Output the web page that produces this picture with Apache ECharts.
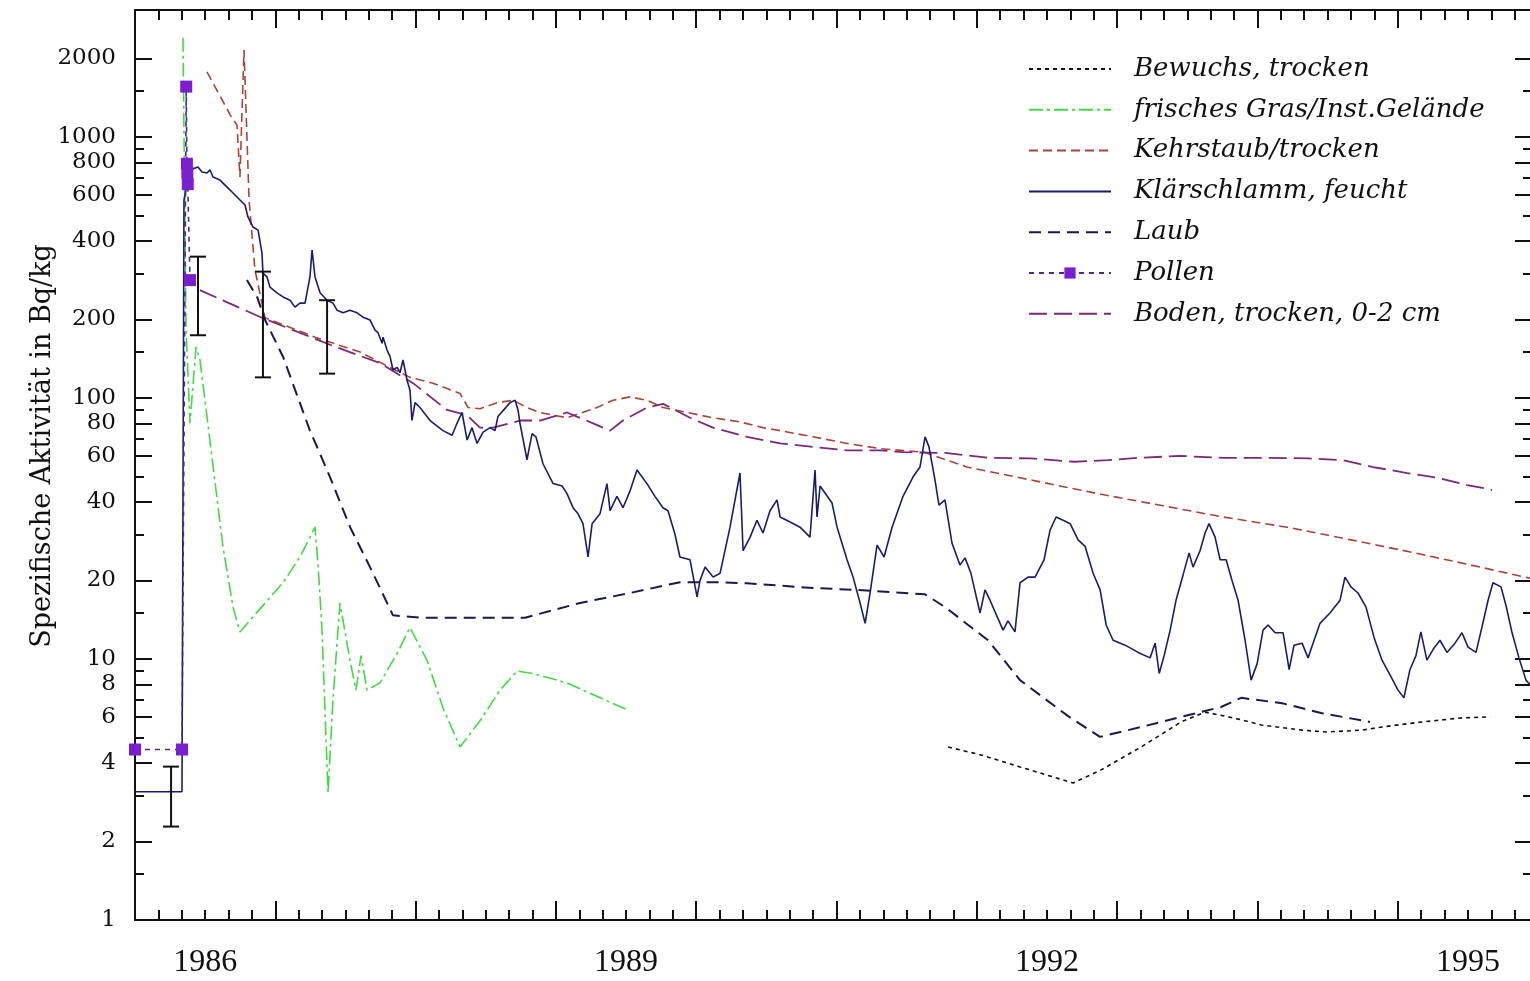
<!DOCTYPE html>
<html>
<head>
<meta charset="utf-8">
<script src="https://cdn.jsdelivr.net/npm/echarts@6/dist/echarts.min.js"></script>
<style>
html, body { margin: 0; padding: 0; background: #fff; }
#chart { width: 1530px; height: 981px; }
</style>
</head>
<body>
<div id="chart"></div>
<script>
// values: [decimal year, Bq/kg]
const bewuchs = [[1991.795,4.6],[1992.023,4.3],[1992.308,3.86],[1992.686,3.35],[1992.886,3.76],[1993.171,4.6],[1993.456,5.74],[1993.627,6.26],[1993.827,5.95],[1994.026,5.59],[1994.318,5.34],[1994.489,5.25],[1994.746,5.34],[1994.889,5.49],[1995.174,5.74],[1995.459,5.95],[1995.659,6.0]];

const gras = [[1986.342,2400],[1986.364,182],[1986.392,80],[1986.435,157],[1986.463,140],[1986.513,85],[1986.627,26.9],[1986.699,15.8],[1986.748,12.7],[1986.841,14.5],[1987.055,19.6],[1987.176,24.6],[1987.283,32],[1987.304,23.3],[1987.333,12.9],[1987.376,3.07],[1987.411,7.0],[1987.461,16.4],[1987.532,9.9],[1987.575,7.6],[1987.611,10.3],[1987.654,7.6],[1987.746,8.1],[1987.868,10.5],[1987.960,13.2],[1988.081,9.9],[1988.195,6.5],[1988.317,4.6],[1988.459,5.8],[1988.602,7.6],[1988.723,9.0],[1988.837,8.8],[1989.079,8.1],[1989.315,7.1],[1989.507,6.4]];

const kehrstaub = [[1986.513,1775],[1986.691,1183],[1986.727,1112],[1986.748,703],[1986.777,2154],[1986.813,574],[1986.855,310],[1986.927,203],[1987.297,170],[1987.604,150],[1987.818,131],[1987.960,120],[1988.124,114],[1988.317,104],[1988.374,92],[1988.459,91],[1988.580,96],[1988.694,98],[1988.794,92],[1988.887,88],[1989.079,84],[1989.293,92],[1989.407,98],[1989.528,101],[1989.650,98],[1989.764,92],[1989.935,88],[1990.120,84],[1990.312,81],[1990.476,77],[1990.598,75],[1990.833,71],[1991.075,67],[1991.310,64],[1991.624,62],[1991.930,54.4],[1992.387,48.5],[1992.843,43.2],[1993.299,38.9],[1993.755,35],[1994.211,32],[1994.668,28.6],[1995.124,25.5],[1995.587,22.5],[1995.943,20.4]];

const klaerschlamm = [[1986.000,3.1],[1986.335,3.1],[1986.349,574],[1986.392,748],[1986.449,767],[1986.478,734],[1986.513,728],[1986.535,748],[1986.556,703],[1986.606,684],[1986.656,643],[1986.699,610],[1986.748,574],[1986.784,549],[1986.805,494],[1986.841,452],[1986.877,440],[1986.905,360],[1986.912,301],[1986.941,291],[1986.962,266],[1987.012,253],[1987.055,244],[1987.105,237],[1987.140,223],[1987.176,231],[1987.212,231],[1987.247,291],[1987.262,369],[1987.283,291],[1987.319,253],[1987.369,237],[1987.411,231],[1987.440,217],[1987.483,212],[1987.532,217],[1987.582,212],[1987.625,204],[1987.675,199],[1987.711,182],[1987.732,178],[1987.761,162],[1987.768,171],[1987.796,153],[1987.818,144],[1987.839,128],[1987.868,131],[1987.889,125],[1987.910,140],[1987.939,117],[1987.960,107],[1987.974,82],[1987.996,96],[1988.031,92],[1988.103,82],[1988.195,75],[1988.260,72],[1988.295,80],[1988.331,88],[1988.367,69],[1988.402,77],[1988.438,67],[1988.481,74],[1988.531,77],[1988.566,75],[1988.587,85],[1988.673,96],[1988.709,98],[1988.730,90],[1988.744,80],[1988.794,58],[1988.830,73],[1988.858,71],[1988.908,56],[1988.980,47],[1989.044,46],[1989.079,43],[1989.122,38],[1989.158,36],[1989.193,33],[1989.229,24.6],[1989.258,33],[1989.314,36],[1989.364,47],[1989.386,37],[1989.435,42],[1989.478,38],[1989.528,44],[1989.578,53],[1989.649,47],[1989.706,42],[1989.763,38],[1989.799,37],[1989.849,30],[1989.884,24.6],[1989.956,24],[1990.006,17.3],[1990.027,20],[1990.063,22.5],[1990.120,20.6],[1990.170,21.3],[1990.241,32],[1990.312,51.6],[1990.334,26],[1990.384,29.3],[1990.433,34],[1990.476,30.4],[1990.526,37],[1990.576,40.7],[1990.598,35],[1990.669,33.5],[1990.740,32],[1990.811,29.3],[1990.847,53],[1990.861,35],[1990.883,46],[1990.968,39.6],[1991.004,32],[1991.075,24],[1991.118,20.6],[1991.168,16.4],[1991.204,13.7],[1991.239,17.9],[1991.289,27.3],[1991.339,24.6],[1991.396,32],[1991.474,42],[1991.545,49.8],[1991.595,54.4],[1991.631,71],[1991.659,65],[1991.702,48.5],[1991.730,38.9],[1991.773,40.7],[1991.823,27.8],[1991.880,22.9],[1991.916,24.4],[1991.958,21.3],[1992.023,15],[1992.058,18.4],[1992.094,16.8],[1992.158,14],[1992.187,12.9],[1992.222,14],[1992.272,12.7],[1992.308,19.6],[1992.365,20.6],[1992.415,20.6],[1992.479,24],[1992.522,31.2],[1992.565,35],[1992.615,34],[1992.665,33],[1992.722,28.6],[1992.772,27],[1992.829,21.3],[1992.879,18.4],[1992.922,13.5],[1992.971,11.8],[1993.057,11.3],[1993.150,10.6],[1993.235,10.1],[1993.271,11.5],[1993.300,8.8],[1993.335,10.3],[1993.378,12.9],[1993.420,16.8],[1993.470,21],[1993.513,25.5],[1993.541,22.5],[1993.591,26],[1993.627,30.4],[1993.655,33],[1993.698,29.3],[1993.734,24],[1993.777,24],[1993.819,20],[1993.862,16.8],[1993.912,11.8],[1993.955,8.3],[1993.998,9.6],[1994.040,12.9],[1994.076,13.5],[1994.126,12.6],[1994.183,12.6],[1994.226,9.1],[1994.261,11.3],[1994.318,11.5],[1994.361,10.1],[1994.404,11.8],[1994.446,13.7],[1994.517,15],[1994.589,16.8],[1994.624,20.6],[1994.667,18.9],[1994.717,17.9],[1994.774,15.8],[1994.831,12.1],[1994.888,9.9],[1994.945,8.7],[1995.002,7.6],[1995.044,7.1],[1995.087,9.1],[1995.130,10.3],[1995.165,12.7],[1995.208,9.9],[1995.258,11],[1995.301,11.8],[1995.351,10.6],[1995.408,11.5],[1995.458,12.6],[1995.501,11.1],[1995.558,10.6],[1995.601,13.3],[1995.644,16.8],[1995.679,19.6],[1995.736,18.9],[1995.772,16],[1995.815,12.6],[1995.864,10.1],[1995.914,8.3],[1995.950,7.9]];

const laub = [[1986.798,283],[1986.870,244],[1986.927,199],[1987.055,144],[1987.247,75],[1987.390,49.8],[1987.533,32],[1987.675,22.5],[1987.839,14.7],[1988.031,14.4],[1988.388,14.4],[1988.780,14.4],[1989.172,16.4],[1989.528,17.9],[1989.885,19.7],[1990.120,19.7],[1990.362,19.5],[1990.833,18.7],[1991.146,18.4],[1991.631,17.7],[1991.774,15.8],[1992.080,11.8],[1992.308,8.3],[1992.658,6.0],[1992.878,5.03],[1993.171,5.49],[1993.456,6.0],[1993.741,6.55],[1993.884,7.1],[1994.176,6.77],[1994.461,6.2],[1994.803,5.74]];

const pollen = [[1986.000,4.5],[1986.335,4.5],[1986.365,1560],[1986.370,790],[1986.373,730],[1986.376,660],[1986.392,283]];

const boden = [[1986.463,259],[1986.905,203],[1987.390,160],[1987.746,136],[1987.982,114],[1988.224,90],[1988.366,86],[1988.459,77],[1988.552,77],[1988.744,82],[1988.887,82],[1989.079,88],[1989.265,80],[1989.386,75],[1989.478,82],[1989.650,92],[1989.764,95],[1989.956,84],[1990.120,77],[1990.362,71],[1990.598,67],[1990.833,65],[1991.075,63],[1991.310,63],[1991.474,62],[1991.774,61.6],[1992.080,59],[1992.387,58.7],[1992.693,57],[1992.936,57.8],[1993.149,59],[1993.449,60],[1993.755,59],[1994.062,59],[1994.368,58.7],[1994.611,57.8],[1994.824,54.4],[1995.067,51.6],[1995.281,49.5],[1995.494,46.4],[1995.673,44.5]];

// error bars: [year, low, high]
const errorBars = [[1986.257,2.28,3.87],[1986.449,174,348],[1986.912,120,305],[1987.369,124,237]];

const seriesNames = ['Bewuchs, trocken', 'frisches Gras/Inst.Gelände', 'Kehrstaub/trocken', 'Klärschlamm, feucht', 'Laub', 'Pollen', 'Boden, trocken, 0-2 cm'];

// axis ticks and labels
const yLabelValues = [1, 2, 4, 6, 8, 10, 20, 40, 60, 80, 100, 200, 400, 600, 800, 1000, 2000];
const yMinorValues = [1.5, 3, 5, 7, 9, 15, 30, 50, 70, 90, 150, 300, 500, 700, 900, 1500];
const xYearTicks = [1986, 1987, 1988, 1989, 1990, 1991, 1992, 1993, 1994, 1995];
const xLabelYears = [1986, 1989, 1992, 1995];

const xMin = 1986, xMax = 1995.957;
const yMin = 1, yMax = 3067;

let xMinorTicks = [];
for (let y = 1986; y < 1996; y++) {
    for (let k = 1; k < 6; k++) {
        let v = y + k / 6;
        if (v < xMax) xMinorTicks.push(v);
    }
}

const black = '#111';
const noDot = 'rgba(0,0,0,0)';

const xTickAxis = (position, ticks, length, line) => ({
    type: 'value', position: position, min: xMin, max: xMax,
    axisLine: { show: line, onZero: false, lineStyle: { color: black, width: 2 } },
    axisTick: { show: true, inside: true, length: length, customValues: ticks, lineStyle: { color: black, width: 2 } },
    axisLabel: { show: false },
    splitLine: { show: false }
});

const yTickAxis = (position, ticks, length, line, labels) => ({
    type: 'value', position: position, min: 0, max: Math.log10(yMax),
    axisLine: { show: line, onZero: false, lineStyle: { color: black, width: 2 } },
    axisTick: { show: true, inside: true, length: length, customValues: ticks.map(Math.log10), lineStyle: { color: black, width: 2 } },
    axisLabel: labels ? {
        show: true,
        customValues: ticks.map(Math.log10),
        formatter: v => String(Math.round(Math.pow(10, v))),
        fontFamily: 'DejaVu Serif', fontSize: 23, color: black, margin: 19
    } : { show: false },
    splitLine: { show: false }
});

let chartDom = document.getElementById('chart');
let myChart = echarts.init(chartDom);
let option;

option = {
    animation: false,
    backgroundColor: '#fff',
    grid: {
        left: 135, right: -2, top: 10, bottom: 61,
        containLabel: false,
        outerBoundsMode: 'none'
    },
    legend: {
        orient: 'vertical',
        left: 1028,
        top: 56,
        padding: 0,
        itemWidth: 82,
        itemHeight: 14,
        itemGap: 14.8,
        selectedMode: false,
        data: seriesNames,
        textStyle: {
            fontFamily: 'DejaVu Serif', fontStyle: 'italic', fontSize: 26, lineHeight: 26,
            color: black, padding: [0, 0, 0, 18]
        }
    },
    xAxis: [
        {
            type: 'value', position: 'bottom', min: xMin, max: xMax,
            axisLine: { show: true, onZero: false, lineStyle: { color: black, width: 2 } },
            axisTick: { show: true, inside: true, length: 19, customValues: xYearTicks, lineStyle: { color: black, width: 2 } },
            axisLabel: {
                customValues: xLabelYears.map(y => y + 0.5),
                formatter: v => String(Math.floor(v)),
                fontFamily: 'Liberation Serif', fontSize: 32, color: black, margin: 27
            },
            splitLine: { show: false }
        },
        xTickAxis('bottom', xMinorTicks, 10, false),
        xTickAxis('top', xYearTicks, 18, true),
        xTickAxis('top', xMinorTicks, 10, false)
    ],
    yAxis: [
        {
            type: 'log', logBase: 10, min: yMin, max: yMax, position: 'left',
            axisLine: { show: true, onZero: false, lineStyle: { color: black, width: 2 } },
            axisTick: { show: false },
            axisLabel: { show: false },
            splitLine: { show: false },
            name: 'Spezifische Aktivität in Bq/kg',
            nameLocation: 'middle',
            nameGap: 79,
            nameTextStyle: { fontFamily: 'DejaVu Serif', fontSize: 27, color: black, padding: [0, 0, 0, 38] }
        },
        yTickAxis('left', yLabelValues, 17, false, true),
        yTickAxis('left', yMinorValues, 9, false, false),
        yTickAxis('right', yLabelValues, 17, true, false),
        yTickAxis('right', yMinorValues, 9, false, false)
    ],
    series: [
        {
            name: 'Bewuchs, trocken', type: 'line', data: bewuchs,
            symbol: 'none', lineStyle: { color: '#111', width: 1.6, type: [4, 4] },
            itemStyle: { color: noDot }
        },
        {
            name: 'frisches Gras/Inst.Gelände', type: 'line', data: gras,
            symbol: 'none', lineStyle: { color: '#44d944', width: 1.6, type: [14, 4, 3, 4] },
            itemStyle: { color: noDot }
        },
        {
            name: 'Kehrstaub/trocken', type: 'line', data: kehrstaub,
            symbol: 'none', lineStyle: { color: '#a8453a', width: 1.6, type: [9, 5] },
            itemStyle: { color: noDot }
        },
        {
            name: 'Laub', type: 'line', data: laub,
            symbol: 'none', lineStyle: { color: '#1a1a4a', width: 2, type: [12, 7] },
            itemStyle: { color: noDot }
        },
        {
            name: 'Boden, trocken, 0-2 cm', type: 'line', data: boden,
            symbol: 'none', lineStyle: { color: '#7a2a78', width: 1.8, type: [18, 7] },
            itemStyle: { color: noDot }
        },
        {
            name: 'Klärschlamm, feucht', type: 'line', data: klaerschlamm,
            symbol: 'none', lineStyle: { color: '#1c1c6e', width: 1.6 },
            itemStyle: { color: noDot }
        },
        {
            name: 'Pollen', type: 'line', data: pollen,
            symbol: 'rect', symbolSize: 12, showSymbol: true,
            lineStyle: { color: '#4a2a8a', width: 1.6, type: [5, 5] },
            itemStyle: { color: '#7a1fd0' }
        },
        {
            type: 'custom', data: errorBars,
            encode: { x: 0, y: [1, 2] },
            renderItem: (params, api) => {
                let x = api.value(0);
                let lo = api.coord([x, api.value(1)]);
                let hi = api.coord([x, api.value(2)]);
                let w = 8;
                let st = { stroke: '#111', lineWidth: 2 };
                return {
                    type: 'group',
                    children: [
                        { type: 'line', shape: { x1: hi[0], y1: hi[1], x2: lo[0], y2: lo[1] }, style: st },
                        { type: 'line', shape: { x1: hi[0] - w, y1: hi[1], x2: hi[0] + w, y2: hi[1] }, style: st },
                        { type: 'line', shape: { x1: lo[0] - w, y1: lo[1], x2: lo[0] + w, y2: lo[1] }, style: st }
                    ]
                };
            },
            z: 5
        }
    ]
};

option && myChart.setOption(option);
</script>
</body>
</html>
